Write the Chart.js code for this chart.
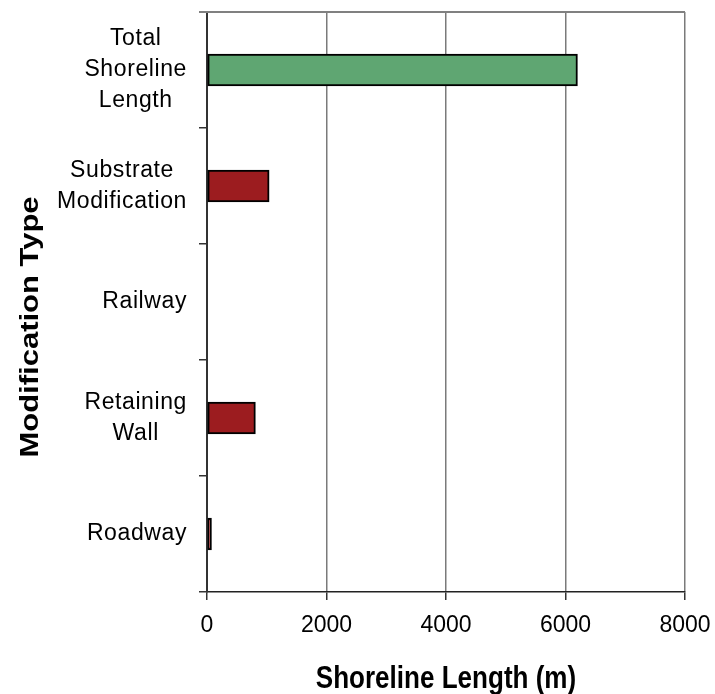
<!DOCTYPE html>
<html>
<head>
<meta charset="utf-8">
<script src="https://cdn.jsdelivr.net/npm/chart.js@4"></script>
<style>
  body { margin: 0; background: #fff; }
  #wrap { width: 715px; height: 694px; }
</style>
</head>
<body>
<div id="wrap"><canvas id="myChart" width="715" height="694"></canvas></div>
<script>
// data
const categories = [["Total", "Shoreline", "Length"], ["Substrate", "Modification"], "Railway", ["Retaining", "Wall"], "Roadway"];
const shorelineLength = [6200, 1040, 0, 810, 75];
const xMin = 0;
const xMax = 8000;
const xStep = 2000;
const xTitle = "Shoreline Length (m)";
const yTitle = "Modification Type";

const GREEN = "#5fa672";
const RED = "#9c1c1f";

// y labels: block right aligned, lines centred in the block
const categoryLabels = {
    id: "categoryLabels",
    afterDraw(chart) {
        const ctx = chart.ctx;
        const yScale = chart.scales.y;
        const right = chart.chartArea.left - 20;
        const lineH = 31;
        ctx.save();
        ctx.font = "23px 'Liberation Sans', Arial, sans-serif";
        ctx.letterSpacing = "0.6px";
        ctx.fillStyle = "#000";
        ctx.textAlign = "center";
        ctx.textBaseline = "middle";
        yScale.getLabels().forEach((label, i) => {
            const lines = Array.isArray(label) ? label : [label];
            const blockW = Math.max(...lines.map(l => ctx.measureText(l).width));
            const cx = right - blockW / 2;
            const py = yScale.getPixelForTick(i);
            lines.forEach((line, j) => {
                ctx.fillText(line, cx, py + (j - (lines.length - 1) / 2) * lineH);
            });
        });
        ctx.restore();
    }
};

const axisTitles = {
    id: "axisTitles",
    afterDraw(chart) {
        const ctx = chart.ctx;
        const area = chart.chartArea;
        ctx.save();
        // top border
        ctx.strokeStyle = "#808080";
        ctx.lineWidth = 2;
        ctx.beginPath();
        ctx.moveTo(area.left - 8, area.top);
        ctx.lineTo(area.right, area.top);
        ctx.stroke();

        ctx.fillStyle = "#000";
        ctx.textAlign = "center";
        ctx.textBaseline = "middle";
        ctx.font = "bold 31px 'Liberation Sans', Arial, sans-serif";

        ctx.save();
        ctx.translate((area.left + area.right) / 2, 679);
        ctx.scale(0.84, 1);
        ctx.fillText(xTitle, 0, 0);
        ctx.restore();

        ctx.save();
        ctx.translate(31, area.top + (area.bottom - area.top) / 2 + 25);
        ctx.scale(0.84, 1);
        ctx.rotate(-Math.PI / 2);
        ctx.fillText(yTitle, 0, 0);
        ctx.restore();

        ctx.restore();
    }
};

const myChart = new Chart(document.getElementById("myChart"), {
    type: "bar",
    data: {
        labels: categories,
        datasets: [{
            data: shorelineLength,
            backgroundColor: shorelineLength.map((v, i) => i === 0 ? GREEN : RED),
            borderColor: "#000",
            borderWidth: 2,
            borderSkipped: false,
            barThickness: 32
        }]
    },
    options: {
        indexAxis: "y",
        responsive: false,
        animation: false,
        layout: { padding: { top: 12, right: 30, left: 0, bottom: 0 } },
        plugins: { legend: { display: false }, tooltip: { enabled: false } },
        scales: {
            x: {
                min: xMin,
                max: xMax,
                afterFit(scale) {
                    scale.height = 102;
                    scale.paddingLeft = 0;
                    scale.paddingRight = 0;
                },
                ticks: {
                    stepSize: xStep,
                    padding: 12,
                    color: "#000",
                    callback: (v) => String(v),
                    font: { family: "'Liberation Sans', Arial, sans-serif", size: 23 }
                },
                grid: { color: "#7a7a7a", lineWidth: 1.5, tickLength: 8, tickColor: "#333" },
                border: { color: "#222", width: 1.5 }
            },
            y: {
                afterFit(scale) { scale.width = 207; },
                ticks: { display: false },
                grid: { offset: true, drawOnChartArea: false, tickLength: 8, tickColor: "#333", lineWidth: 1.5 },
                border: { color: "#333", width: 2 }
            }
        }
    },
    plugins: [categoryLabels, axisTitles]
});
</script>
</body>
</html>
